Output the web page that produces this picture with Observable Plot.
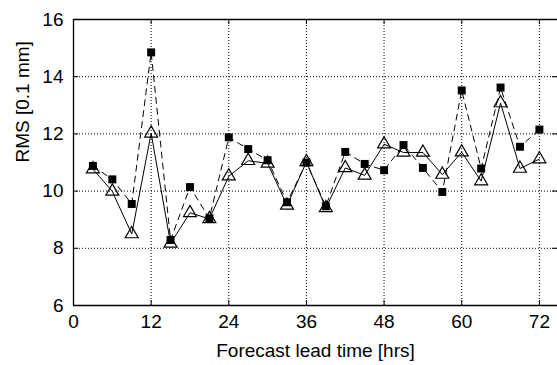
<!DOCTYPE html>
<html>
<head>
<meta charset="utf-8">
<script src="https://cdn.jsdelivr.net/npm/d3@7"></script>
<script src="https://cdn.jsdelivr.net/npm/@observablehq/plot@0.6"></script>
<style>
  html, body { margin: 0; padding: 0; background: #fff; }
</style>
</head>
<body>
<div id="chart"></div>
<script>
// Forecast lead time (hours)
const hours = [3, 6, 9, 12, 15, 18, 21, 24, 27, 30, 33, 36, 39, 42, 45, 48, 51, 54, 57, 60, 63, 66, 69, 72];
// RMS [0.1 mm], dashed series with filled squares
const rmsSquares = [10.88, 10.41, 9.55, 14.85, 8.29, 10.14, 9.05, 11.88, 11.47, 11.08, 9.61, 11.0, 9.47, 11.37, 10.95, 10.73, 11.61, 10.81, 9.97, 13.52, 10.79, 13.62, 11.55, 12.15];
// RMS [0.1 mm], solid series with open triangles
const rmsTriangles = [10.77, 9.99, 8.5, 12.02, 8.17, 9.24, 9.03, 10.52, 11.06, 10.97, 9.5, 11.02, 9.41, 10.81, 10.55, 11.64, 11.35, 11.35, 10.58, 11.36, 10.35, 13.08, 10.79, 11.12];
const xTicks = [0, 12, 24, 36, 48, 60, 72];
const yTicks = [6, 8, 10, 12, 14, 16];
const xLabel = "Forecast lead time [hrs]";
const yLabel = "RMS [0.1 mm]";

const squares = hours.map((h, i) => ({h, v: rmsSquares[i]}));
const triangles = hours.map((h, i) => ({h, v: rmsTriangles[i]}));

const W = 557, H = 365, mL = 73, mR = 0, mT = 19, mB = 60;
const plotW = W - mL - mR, plotH = H - mT - mB;
const tickLen = 5;

const chart = Plot.plot({
  width: W, height: H,
  marginLeft: mL, marginRight: mR, marginTop: mT, marginBottom: mB,
  x: {domain: [0, 74.8]},
  y: {domain: [6, 16]},
  style: {fontFamily: "'Liberation Sans', Arial, Helvetica, sans-serif", fontSize: "19px", color: "#000", background: "#fff"},
  marks: [
    // dotted grid
    Plot.ruleX(xTicks.filter(d => d > 0), {x: d => d, stroke: "#000", strokeWidth: 1, strokeDasharray: "1,2"}),
    Plot.ruleY(yTicks.filter(d => d > 6 && d < 16), {y: d => d, stroke: "#000", strokeWidth: 1, strokeDasharray: "1,2"}),
    // frame (left, bottom, top)
    Plot.ruleX([0], {stroke: "#000", strokeWidth: 1.3}),
    Plot.ruleY([6, 16], {stroke: "#000", strokeWidth: 1.3}),
    // inward tick marks
    Plot.tickX(xTicks, {x: d => d, stroke: "#000", insetTop: plotH - tickLen}),
    Plot.tickX(xTicks, {x: d => d, stroke: "#000", insetBottom: plotH - tickLen}),
    Plot.tickY(yTicks, {y: d => d, stroke: "#000", insetRight: plotW - tickLen}),
    Plot.tickY(yTicks, {y: d => d, stroke: "#000", insetLeft: plotW - tickLen}),
    // tick labels
    Plot.axisX(xTicks, {tickSize: 0, tickPadding: 9, label: null, fontSize: 19}),
    Plot.axisY(yTicks, {tickSize: 0, tickPadding: 10, label: null, fontSize: 19}),
    // axis titles
    Plot.text([xLabel], {text: d => d, frameAnchor: "bottom", dy: 51, fontSize: 19}),
    Plot.text([yLabel], {text: d => d, frameAnchor: "left", dx: -51, rotate: -90, fontSize: 19}),
    // series
    Plot.line(squares, {x: "h", y: "v", stroke: "#000", strokeWidth: 1, strokeDasharray: "6,5"}),
    Plot.line(triangles, {x: "h", y: "v", stroke: "#000", strokeWidth: 1}),
    Plot.dot(triangles, {x: "h", y: "v", symbol: "triangle", r: 4.8, stroke: "#000", strokeWidth: 1.2, fill: "none"}),
    Plot.dot(squares, {x: "h", y: "v", symbol: "square", r: 4.5, fill: "#000", stroke: "none"})
  ]
});
document.getElementById("chart").appendChild(chart);
</script>
</body>
</html>
